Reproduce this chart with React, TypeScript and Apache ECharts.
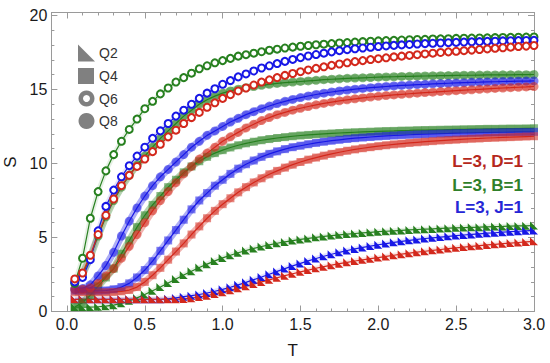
import React, { useEffect, useRef } from "react";
import * as echarts from "echarts";

const T = [
  0.05, 0.1, 0.15, 0.2, 0.25, 0.3, 0.35, 0.4, 0.45, 0.5,
  0.55, 0.6, 0.65, 0.7, 0.75, 0.8, 0.85, 0.9, 0.95, 1.0,
  1.05, 1.1, 1.15, 1.2, 1.25, 1.3, 1.35, 1.4, 1.45, 1.5,
  1.55, 1.6, 1.65, 1.7, 1.75, 1.8, 1.85, 1.9, 1.95, 2.0,
  2.05, 2.1, 2.15, 2.2, 2.25, 2.3, 2.35, 2.4, 2.45, 2.5,
  2.55, 2.6, 2.65, 2.7, 2.75, 2.8, 2.85, 2.9, 2.95, 3.0,
];

// Q6 (rings)
const gQ6 = [
  1.9, 3.6, 6.3, 8.1, 9.5, 10.6, 11.5, 12.3, 13.0, 13.7,
  14.2, 14.7, 15.1, 15.5, 15.8, 16.1, 16.4, 16.6, 16.8, 16.95,
  17.1, 17.25, 17.35, 17.45, 17.55, 17.65, 17.72, 17.8, 17.86, 17.92,
  17.97, 18.02, 18.06, 18.1, 18.14, 18.17, 18.2, 18.23, 18.26, 18.28,
  18.3, 18.32, 18.34, 18.36, 18.38, 18.39, 18.41, 18.42, 18.43, 18.45,
  18.46, 18.47, 18.48, 18.49, 18.5, 18.51, 18.52, 18.53, 18.54, 18.55,
];
const bQ6 = [
  2.0, 2.3, 3.5, 5.45, 7.1, 8.2, 9.1, 9.85, 10.5, 11.1,
  11.7, 12.2, 12.7, 13.2, 13.6, 14.0, 14.4, 14.75, 15.05, 15.35,
  15.6, 15.85, 16.05, 16.25, 16.45, 16.6, 16.75, 16.9, 17.03, 17.15,
  17.26, 17.36, 17.45, 17.54, 17.62, 17.69, 17.75, 17.8, 17.85, 17.9,
  17.94, 17.98, 18.01, 18.04, 18.07, 18.1, 18.12, 18.14, 18.16, 18.18,
  18.2, 18.22, 18.23, 18.25, 18.26, 18.28, 18.29, 18.3, 18.31, 18.32,
];
const rQ6 = [
  2.2, 2.6, 3.8, 5.2, 6.5, 7.6, 8.5, 9.2, 9.8, 10.3,
  10.8, 11.3, 11.8, 12.25, 12.7, 13.1, 13.45, 13.8, 14.1, 14.4,
  14.65, 14.9, 15.1, 15.3, 15.5, 15.65, 15.8, 15.95, 16.08, 16.2,
  16.32, 16.43, 16.53, 16.63, 16.72, 16.8, 16.88, 16.95, 17.02, 17.08,
  17.14, 17.2, 17.25, 17.3, 17.35, 17.4, 17.45, 17.5, 17.54, 17.58,
  17.62, 17.66, 17.7, 17.74, 17.78, 17.82, 17.86, 17.9, 17.93, 17.97,
];

// Q8 (filled circles)
const gQ8 = [
  2.0, 2.5, 3.7, 5.1, 6.4, 7.5, 8.4, 9.2, 9.9, 10.5,
  11.1, 11.7, 12.2, 12.7, 13.2, 13.6, 14.0, 14.3, 14.55, 14.75,
  14.9, 15.02, 15.12, 15.2, 15.28, 15.35, 15.41, 15.46, 15.5, 15.54,
  15.58, 15.62, 15.66, 15.69, 15.72, 15.75, 15.77, 15.79, 15.81, 15.83,
  15.85, 15.86, 15.88, 15.89, 15.9, 15.91, 15.92, 15.93, 15.94, 15.95,
  15.96, 15.96, 15.97, 15.98, 15.98, 15.99, 15.99, 16.0, 16.0, 16.01,
];
const bQ8 = [
  1.5, 1.55, 1.8, 2.4, 3.1, 4.0, 5.1, 6.1, 7.0, 7.8,
  8.5, 9.1, 9.6, 10.1, 10.6, 11.1, 11.5, 11.9, 12.2, 12.5,
  12.8, 13.05, 13.3, 13.5, 13.7, 13.88, 14.05, 14.2, 14.33, 14.45,
  14.56, 14.66, 14.75, 14.83, 14.9, 14.96, 15.02, 15.07, 15.12, 15.16,
  15.2, 15.24, 15.27, 15.3, 15.33, 15.35, 15.38, 15.4, 15.42, 15.44,
  15.46, 15.48, 15.49, 15.51, 15.52, 15.54, 15.55, 15.56, 15.57, 15.58,
];
const rQ8 = [
  1.5, 1.5, 1.6, 1.9, 2.4, 2.9, 3.6, 4.4, 5.2, 6.0,
  6.8, 7.5, 8.1, 8.7, 9.3, 9.8, 10.3, 10.7, 11.1, 11.5,
  11.8, 12.1, 12.4, 12.65, 12.9, 13.1, 13.3, 13.45, 13.6, 13.73,
  13.85, 13.96, 14.06, 14.15, 14.23, 14.3, 14.37, 14.43, 14.49, 14.54,
  14.59, 14.63, 14.67, 14.71, 14.75, 14.79, 14.82, 14.86, 14.89, 14.92,
  14.95, 14.98, 15.01, 15.04, 15.07, 15.1, 15.12, 15.15, 15.17, 15.2,
];

// Q4 (squares)
const gQ4 = [
  0.3, 0.6, 1.1, 1.7, 2.3, 2.9, 3.9, 4.8, 5.7, 6.5,
  7.2, 7.8, 8.4, 8.9, 9.4, 9.8, 10.15, 10.45, 10.7, 10.9,
  11.08, 11.23, 11.36, 11.47, 11.57, 11.65, 11.72, 11.78, 11.84, 11.89,
  11.93, 11.97, 12.0, 12.03, 12.06, 12.09, 12.11, 12.13, 12.15, 12.17,
  12.19, 12.2, 12.22, 12.23, 12.25, 12.26, 12.27, 12.28, 12.29, 12.3,
  12.31, 12.32, 12.33, 12.34, 12.34, 12.35, 12.36, 12.36, 12.37, 12.38,
];
const bQ4 = [
  1.4, 1.4, 1.4, 1.4, 1.42, 1.5, 1.65, 1.9, 2.3, 2.8,
  3.4, 4.1, 4.8, 5.5, 6.2, 6.9, 7.5, 8.0, 8.5, 8.9,
  9.3, 9.65, 9.95, 10.2, 10.45, 10.65, 10.82, 10.97, 11.1, 11.2,
  11.3, 11.39, 11.47, 11.54, 11.6, 11.66, 11.71, 11.75, 11.79, 11.83,
  11.86, 11.89, 11.92, 11.94, 11.96, 11.98, 12.0, 12.02, 12.03, 12.05,
  12.06, 12.07, 12.08, 12.09, 12.1, 12.11, 12.12, 12.13, 12.13, 12.14,
];
const rQ4 = [
  1.3, 1.3, 1.3, 1.3, 1.3, 1.32, 1.36, 1.45, 1.65, 2.0,
  2.45, 2.95, 3.5, 4.05, 4.6, 5.2, 5.75, 6.3, 6.8, 7.25,
  7.65, 8.05, 8.4, 8.72, 9.0, 9.27, 9.5, 9.72, 9.92, 10.1,
  10.26, 10.4, 10.53, 10.65, 10.76, 10.86, 10.95, 11.03, 11.1, 11.17,
  11.23, 11.29, 11.34, 11.39, 11.43, 11.47, 11.51, 11.55, 11.58, 11.61,
  11.64, 11.67, 11.69, 11.72, 11.74, 11.76, 11.78, 11.8, 11.82, 11.84,
];

// Q2 (triangles)
const gQ2 = [
  0.3, 0.3, 0.3, 0.32, 0.36, 0.43, 0.55, 0.72, 0.92, 1.15,
  1.4, 1.65, 1.92, 2.2, 2.47, 2.72, 2.97, 3.2, 3.42, 3.62,
  3.8, 3.97, 4.12, 4.26, 4.39, 4.5, 4.61, 4.7, 4.79, 4.87,
  4.94, 5.01, 5.07, 5.13, 5.18, 5.23, 5.27, 5.31, 5.35, 5.39,
  5.42, 5.45, 5.48, 5.51, 5.54, 5.56, 5.58, 5.61, 5.63, 5.65,
  5.67, 5.69, 5.7, 5.72, 5.74, 5.75, 5.77, 5.78, 5.79, 5.81,
];
const bQ2 = [
  0.82, 0.82, 0.82, 0.82, 0.82, 0.82, 0.82, 0.82, 0.82, 0.82,
  0.82, 0.82, 0.86, 0.92, 1.0, 1.07, 1.15, 1.25, 1.37, 1.5,
  1.64, 1.8, 1.97, 2.15, 2.33, 2.52, 2.71, 2.9, 3.08, 3.25,
  3.42, 3.58, 3.73, 3.87, 4.0, 4.12, 4.23, 4.33, 4.42, 4.51,
  4.59, 4.67, 4.74, 4.81, 4.87, 4.93, 4.98, 5.03, 5.08, 5.13,
  5.17, 5.21, 5.25, 5.29, 5.32, 5.36, 5.39, 5.42, 5.45, 5.48,
];
const rQ2 = [
  0.82, 0.82, 0.82, 0.82, 0.82, 0.82, 0.82, 0.82, 0.82, 0.82,
  0.82, 0.82, 0.82, 0.82, 0.85, 0.9, 0.98, 1.07, 1.18, 1.3,
  1.43, 1.57, 1.71, 1.85, 2.0, 2.14, 2.28, 2.42, 2.55, 2.68,
  2.8, 2.92, 3.03, 3.13, 3.23, 3.32, 3.41, 3.49, 3.57, 3.64,
  3.72, 3.8, 3.87, 3.94, 4.01, 4.07, 4.13, 4.19, 4.25, 4.3,
  4.35, 4.4, 4.45, 4.5, 4.54, 4.58, 4.62, 4.66, 4.7, 4.74,
];

const X_TICKS = [0, 0.5, 1, 1.5, 2, 2.5, 3];
const Y_TICKS = [0, 5, 10, 15, 20];
const X_MINOR = Array.from({ length: 31 }, (_, i) => i / 10);
const Y_MINOR = Array.from({ length: 21 }, (_, i) => i);

const SHAPE_LABELS = ["Q2", "Q4", "Q6", "Q8"];
const MODEL_LABELS = ["L=3, D=1", "L=3, B=1", "L=3, J=1"];

const GREEN = "#27801f";
const BLUE = "#1717e6";
const RED = "#d3281c";
const LABEL_COLORS = ["#b5281c", "#2f7f2a", "#2626d6"];
const FONT = "'Liberation Sans', Arial, sans-serif";
const AXIS_GRAY = "#9a9a9a";
const TRI = "path://M0,0L0,10L10,10Z";

function curve(vals: number[], color: string, q: string) {
  const data = T.map((t, i) => [t, vals[i]]);
  const heavy = q === "Q4" || q === "Q8";
  const sym: Record<string, string> = { Q2: TRI, Q4: "rect", Q6: "emptyCircle", Q8: "circle" };
  return [
    {
      type: "line",
      data,
      symbol: "none",
      silent: true,
      z: 1,
      lineStyle: { width: heavy ? 7 : 5, color, opacity: heavy ? 0.35 : 0.12 },
    },
    {
      type: "line",
      data,
      symbol: sym[q],
      showSymbol: true,
      symbolSize: q === "Q8" ? 9 : q === "Q6" ? 7 : 8,
      silent: true,
      z: 2,
      lineStyle: { width: 1.2, color },
      itemStyle: {
        color,
        borderColor: color,
        borderWidth: q === "Q6" ? 2 : 0,
        opacity: heavy ? 0.55 : 1,
      },
    },
  ];
}

export default function App() {
  const ref = useRef<HTMLDivElement>(null);
  useEffect(() => {
    if (!ref.current) return;
    const chart = echarts.init(ref.current, null, { renderer: "svg" });
    const base = { type: "value", min: -0.1, max: 3, splitLine: { show: false } };
    const ybase = { type: "value", min: 0, max: 20.2, splitLine: { show: false } };
    const line = { show: true, onZero: false, lineStyle: { color: AXIS_GRAY, width: 1 } };
    const noLine = { show: false, onZero: false };
    const majTick = (vals: number[]) => ({ show: true, inside: true, length: 6, customValues: vals, lineStyle: { color: AXIS_GRAY } });
    const minTick = (vals: number[]) => ({ show: true, inside: true, length: 3, customValues: vals, lineStyle: { color: AXIS_GRAY } });
    const labelStyle = { fontSize: 16, color: "#1a1a1a", fontFamily: FONT };

    const series: any[] = [];
    const groups: [number[], number[], number[], string][] = [
      [gQ2, bQ2, rQ2, "Q2"],
      [gQ4, bQ4, rQ4, "Q4"],
      [gQ8, bQ8, rQ8, "Q8"],
      [gQ6, bQ6, rQ6, "Q6"],
    ];
    for (const [g, b, r, q] of groups) {
      series.push(...curve(g, GREEN, q));
      series.push(...curve(b, BLUE, q));
      series.push(...curve(r, RED, q));
    }

    const legendX = 78;
    const legendYs = [53, 76, 98.5, 121];
    const graphic: any[] = [
      { type: "polygon", shape: { points: [[legendX, legendYs[0] - 8.5], [legendX, legendYs[0] + 8.5], [legendX + 17, legendYs[0] + 8.5]] }, style: { fill: "#808080" } },
      { type: "rect", shape: { x: legendX, y: legendYs[1] - 8, width: 16, height: 16 }, style: { fill: "#808080" } },
      { type: "ring", shape: { cx: legendX + 8.5, cy: legendYs[2], r: 8, r0: 3.5 }, style: { fill: "#808080" } },
      { type: "circle", shape: { cx: legendX + 8.5, cy: legendYs[3], r: 8 }, style: { fill: "#808080" } },
    ];
    SHAPE_LABELS.forEach((s, i) => {
      graphic.push({
        type: "text",
        x: 99,
        y: legendYs[i],
        style: { text: s, fill: "#333333", font: `14px ${FONT}`, verticalAlign: "middle", align: "left" },
      });
    });
    const modelYs = [161, 185, 207];
    MODEL_LABELS.forEach((s, i) => {
      graphic.push({
        type: "text",
        x: 523,
        y: modelYs[i],
        style: { text: s, fill: LABEL_COLORS[i], font: `bold 17px ${FONT}`, align: "right", verticalAlign: "middle" },
      });
    });

    chart.setOption({
      animation: false,
      backgroundColor: "#ffffff",
      textStyle: { fontFamily: FONT },
      grid: { left: 51.4, right: 16, top: 12.5, bottom: 51.5, containLabel: false, outerBoundsMode: "none" },
      xAxis: [
        {
          ...base,
          position: "bottom",
          axisLine: line,
          axisTick: majTick(X_TICKS),
          axisLabel: { customValues: X_TICKS, formatter: (v: number) => v.toFixed(1), margin: 5, ...labelStyle },
          name: "T",
          nameLocation: "middle",
          nameGap: 30,
          nameTextStyle: { fontSize: 17, color: "#1a1a1a", fontFamily: FONT },
        },
        { ...base, position: "bottom", axisLine: noLine, axisTick: minTick(X_MINOR), axisLabel: { show: false } },
        { ...base, position: "top", axisLine: line, axisTick: majTick(X_TICKS), axisLabel: { show: false } },
        { ...base, position: "top", axisLine: noLine, axisTick: minTick(X_MINOR), axisLabel: { show: false } },
      ],
      yAxis: [
        {
          ...ybase,
          position: "left",
          axisLine: line,
          axisTick: majTick(Y_TICKS),
          axisLabel: { customValues: Y_TICKS, formatter: (v: number) => String(v), margin: 4, ...labelStyle },
          name: "S",
          nameLocation: "middle",
          nameRotate: 90,
          nameGap: 27,
          nameTextStyle: { fontSize: 17, color: "#1a1a1a", fontFamily: FONT },
        },
        { ...ybase, position: "left", axisLine: noLine, axisTick: minTick(Y_MINOR), axisLabel: { show: false } },
        { ...ybase, position: "right", axisLine: line, axisTick: majTick(Y_TICKS), axisLabel: { show: false } },
        { ...ybase, position: "right", axisLine: noLine, axisTick: minTick(Y_MINOR), axisLabel: { show: false } },
      ],
      series,
      graphic,
    });
    return () => chart.dispose();
  }, []);
  return (
    <div
      ref={ref}
      style={{ position: "fixed", left: 0, top: 0, width: 550, height: 363, background: "#fff" }}
    />
  );
}
